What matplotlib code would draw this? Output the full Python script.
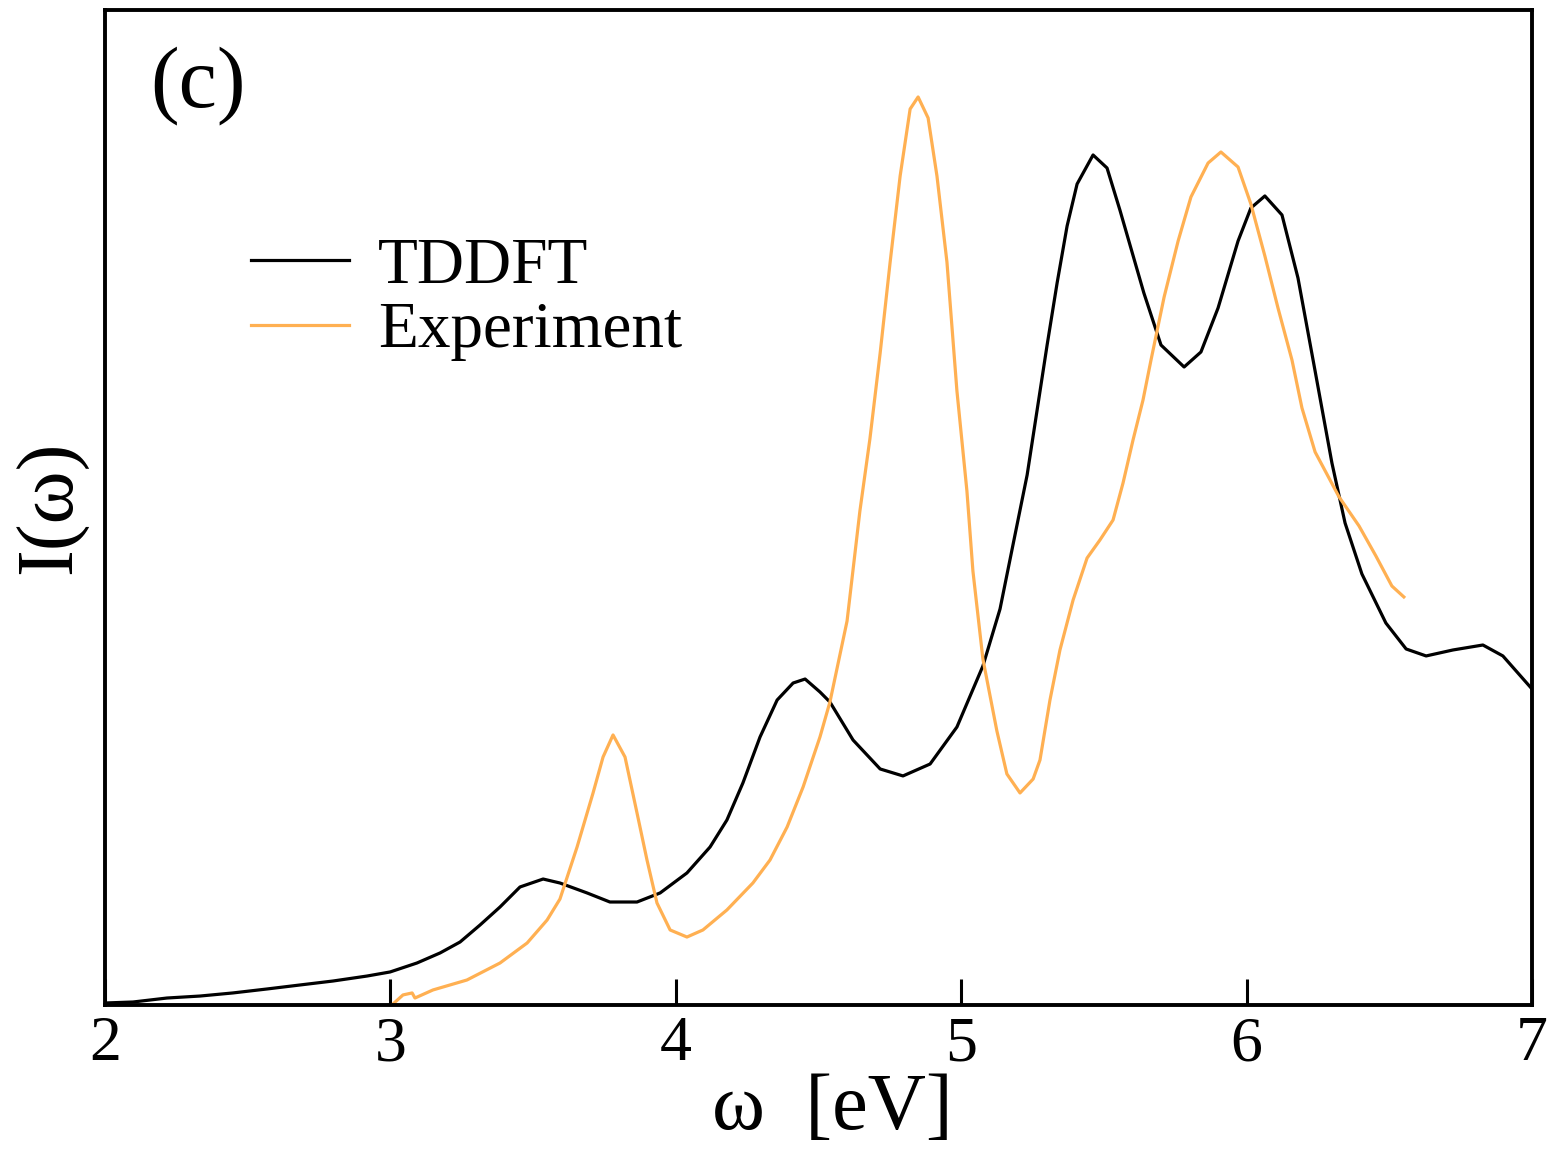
import matplotlib
matplotlib.use("Agg")
import matplotlib.pyplot as plt

plt.rcParams['font.family'] = ['Liberation Serif', 'DejaVu Serif']

# TDDFT (black) curve, omega [eV] vs intensity (arb. units)
tddft_x = [2.000, 2.098, 2.217, 2.333, 2.448, 2.568, 2.683, 2.799, 2.918, 2.999,
           3.093, 3.174, 3.244, 3.314, 3.384, 3.454, 3.535, 3.594, 3.689, 3.769,
           3.864, 3.945, 4.039, 4.120, 4.179, 4.235, 4.295, 4.355, 4.411, 4.453,
           4.505, 4.540, 4.621, 4.716, 4.796, 4.891, 4.985, 5.076, 5.136, 5.182,
           5.231, 5.266, 5.301, 5.336, 5.371, 5.406, 5.462, 5.511, 5.556, 5.640,
           5.700, 5.781, 5.840, 5.900, 5.970, 6.015, 6.064, 6.124, 6.180, 6.240,
           6.299, 6.345, 6.404, 6.488, 6.559, 6.629, 6.723, 6.828, 6.898, 7.000]
tddft_y = [0.20, 0.30, 0.70, 0.90, 1.21, 1.61, 2.01, 2.41, 2.91, 3.32,
           4.22, 5.23, 6.33, 8.04, 9.85, 11.86, 12.66, 12.26, 11.26, 10.35,
           10.35, 11.26, 13.27, 15.88, 18.59, 22.31, 26.93, 30.65, 32.36, 32.76,
           31.46, 30.45, 26.63, 23.72, 23.02, 24.22, 27.94, 34.07, 39.80, 46.33,
           53.27, 59.80, 66.33, 72.56, 78.29, 82.51, 85.43, 84.12, 79.90, 71.56,
           66.33, 64.12, 65.63, 70.05, 76.78, 80.10, 81.31, 79.40, 73.07, 63.72,
           54.47, 48.44, 43.32, 38.39, 35.78, 35.08, 35.68, 36.18, 35.08, 31.76]

# Experiment (orange) curve
exp_x = [3.009, 3.044, 3.076, 3.086, 3.149, 3.268, 3.384, 3.479, 3.549, 3.594,
         3.654, 3.710, 3.745, 3.780, 3.822, 3.864, 3.899, 3.934, 3.980, 4.039,
         4.095, 4.179, 4.270, 4.330, 4.390, 4.446, 4.505, 4.540, 4.600, 4.645,
         4.680, 4.716, 4.751, 4.786, 4.821, 4.849, 4.884, 4.915, 4.950, 4.985,
         5.020, 5.041, 5.076, 5.125, 5.160, 5.206, 5.252, 5.276, 5.311, 5.346,
         5.392, 5.441, 5.486, 5.532, 5.567, 5.602, 5.637, 5.665, 5.711, 5.760,
         5.805, 5.865, 5.910, 5.970, 6.015, 6.064, 6.110, 6.159, 6.194, 6.240,
         6.324, 6.394, 6.453, 6.509, 6.551]
exp_y = [0.10, 1.01, 1.21, 0.70, 1.51, 2.51, 4.22, 6.23, 8.54, 10.65,
         15.88, 21.31, 24.92, 27.14, 24.92, 19.30, 14.57, 10.25, 7.54, 6.83,
         7.54, 9.55, 12.26, 14.57, 17.89, 21.91, 26.93, 30.45, 38.59, 49.65,
         56.88, 65.53, 74.67, 83.32, 90.05, 91.26, 89.15, 83.32, 74.67, 61.71,
         51.66, 43.62, 34.77, 27.54, 23.22, 21.31, 22.71, 24.62, 30.65, 35.68,
         40.70, 44.92, 46.73, 48.74, 52.46, 56.78, 60.80, 64.82, 71.16, 76.78,
         81.21, 84.62, 85.73, 84.22, 80.50, 75.28, 70.05, 64.82, 60.00, 55.58,
         51.06, 48.14, 45.13, 42.11, 41.01]

xticks = [2, 3, 4, 5, 6, 7]
xtick_labels = ['2', '3', '4', '5', '6', '7']

fig = plt.figure(figsize=(15.47, 11.5), dpi=100)
ax = fig.add_axes([0.0679, 0.1261, 0.9224, 0.8652])

ax.plot(tddft_x, tddft_y, color='black', lw=2.3, label='TDDFT',
        solid_joinstyle='round')
ax.plot(exp_x, exp_y, color='#FFB052', lw=2.3, label='Experiment',
        solid_joinstyle='round')

ax.set_xlim(2, 7)
ax.set_ylim(0, 100)
ax.set_xticks(xticks)
ax.set_xticklabels(xtick_labels)
ax.set_yticks([])
ax.tick_params(axis='x', direction='in', length=19, width=2.2, labelsize=46, pad=8,
               top=False)
for s in ax.spines.values():
    s.set_linewidth(2.8)

ax.set_xlabel('ω  [eV]', fontsize=58)
ax.xaxis.set_label_coords(0.51, -0.068)
ax.set_ylabel('I(ω)', fontsize=58, labelpad=12)

ax.text(0.032, 0.964, '(c)', transform=ax.transAxes, fontsize=62,
        ha='left', va='top')

ax.legend(loc='upper left', bbox_to_anchor=(0.102, 0.772), frameon=False,
          fontsize=47, handlelength=1.5, handletextpad=0.45, labelspacing=0.08,
          borderpad=0, borderaxespad=0)

fig.savefig('out.png', dpi=100)
